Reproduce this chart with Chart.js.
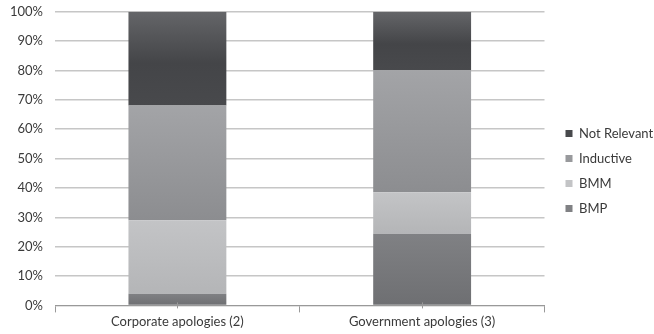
<!DOCTYPE html>
<html>
<head>
<meta charset="utf-8">
<script src="https://cdn.jsdelivr.net/npm/chart.js@4"></script>
<style>
  html, body { margin: 0; padding: 0; background: #fff; }
  #wrap { width: 654px; height: 334px; }
</style>
</head>
<body>
<div id="wrap"><canvas id="myChart"></canvas></div>
<script>
// categories and series (percent of each bar)
let categories = ["Corporate apologies (2)", "Government apologies (3)"];
let bmp = [4, 24.4];
let bmm = [25, 14.1];
let inductive = [39.1, 41.6];
let notRelevant = [31.9, 19.9];
let yTicks = [0, 10, 20, 30, 40, 50, 60, 70, 80, 90, 100];

const ctx = document.getElementById("myChart");
const textColor = "#3a3a3a";
const font = { family: "Lato", size: 13 };

// each segment gets a soft top-to-bottom shade, like the old Excel bars
function shade(solid, stops) {
  return (c) => {
    const chart = c.chart;
    const y = chart.scales.y;
    if (c.type !== "data" || !y) return solid;
    const i = c.dataIndex;
    let start = 0;
    for (let k = 0; k < c.datasetIndex; k++) start += chart.data.datasets[k].data[i];
    const top = y.getPixelForValue(start + chart.data.datasets[c.datasetIndex].data[i]);
    const bottom = y.getPixelForValue(start);
    if (!isFinite(top) || !isFinite(bottom) || top === bottom) return solid;
    const g = chart.ctx.createLinearGradient(0, top, 0, bottom);
    stops.forEach((s) => g.addColorStop(s[0], s[1]));
    return g;
  };
}

const centerTicks = {
  id: "centerTicks",
  afterDraw(chart) {
    const x = chart.scales.x;
    const c = chart.ctx;
    c.save();
    c.strokeStyle = "#999999";
    c.lineWidth = 1;
    for (let i = 0; i < categories.length; i++) {
      const px = Math.round(x.getPixelForTick(i)) + 0.5;
      c.beginPath();
      c.moveTo(px, x.top - 3);
      c.lineTo(px, x.top + 3);
      c.stroke();
    }
    c.restore();
  },
};

let myChart = new Chart(ctx, {
  type: "bar",
  data: {
    labels: categories,
    datasets: [
      {
        label: "BMP",
        data: bmp,
        backgroundColor: shade("#7a7b7e", [[0, "#808184"], [1, "#6e6f72"]]),
      },
      {
        label: "BMM",
        data: bmm,
        backgroundColor: shade("#bfc0c2", [[0, "#c3c4c6"], [1, "#b4b5b7"]]),
      },
      {
        label: "Inductive",
        data: inductive,
        backgroundColor: shade("#98999c", [[0, "#a3a4a7"], [1, "#8c8d90"]]),
      },
      {
        label: "Not Relevant",
        data: notRelevant,
        backgroundColor: shade("#48494c", [[0, "#646568"], [0.55, "#444548"], [1, "#48494c"]]),
      },
    ],
  },
  plugins: [centerTicks],
  options: {
    responsive: true,
    maintainAspectRatio: false,
    animation: false,
    datasets: {
      bar: { categoryPercentage: 1, barPercentage: 0.4 },
    },
    layout: { padding: { top: 10, left: 6, right: -9, bottom: 2 } },
    plugins: {
      tooltip: { enabled: false },
      legend: {
        position: "right",
        reverse: true,
        labels: { boxWidth: 7, boxHeight: 7, padding: 12, color: textColor, font: font },
      },
    },
    scales: {
      x: {
        stacked: true,
        grid: { offset: true, drawOnChartArea: false, drawTicks: true, tickLength: 7, color: "#999999" },
        border: { display: true, color: "#999999" },
        ticks: { color: textColor, padding: 2, font: font },
      },
      y: {
        stacked: true,
        min: 0,
        max: 100,
        afterBuildTicks: (axis) => {
          axis.ticks = yTicks.map((v) => ({ value: v }));
        },
        grid: { color: "#c6c6c6", lineWidth: 1.5, drawTicks: true, tickLength: 8, tickColor: "rgba(0,0,0,0)" },
        border: { display: false },
        ticks: { color: textColor, padding: 4, font: font, callback: (v) => v + "%" },
      },
      // empty right axis, only keeps a gap between plot and legend
      gap: {
        position: "right",
        grid: { display: false },
        border: { display: false },
        ticks: { display: false },
        afterFit: (s) => {
          s.width = 9;
        },
      },
    },
  },
});
</script>
</body>
</html>
